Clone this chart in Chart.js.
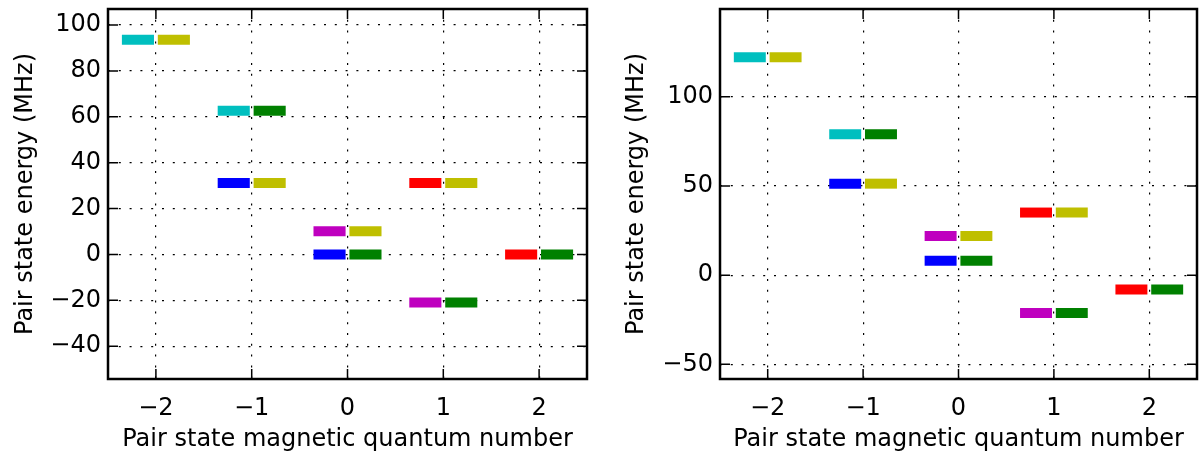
<!DOCTYPE html>
<html>
<head>
<meta charset="utf-8">
<script src="https://cdn.jsdelivr.net/npm/chart.js@4.4.0/dist/chart.umd.min.js"></script>
<style>
  html, body { margin: 0; padding: 0; background: #fff; }
  #wrap { position: relative; width: 1204px; height: 452px; }
  canvas { position: absolute; top: 0; }
</style>
</head>
<body>
<div id="wrap">
  <canvas id="leftChart" width="600" height="452" style="left:0"></canvas>
  <canvas id="rightChart" width="604" height="452" style="left:600px"></canvas>
</div>
<script>
// pair states: magnetic quantum number, energies (MHz) in both panels, colours of the two halves
const mValues = [-2, -1, -1, 0, 0, 1, 1, 2];
const leftEnergies = [93.6, 62.6, 31.1, 10.1, 0, 31.1, -20.9, 0];
const rightEnergies = [122.2, 79.0, 51.3, 22.0, 8.1, 35.1, -21.2, -8.1];
const firstHalfColors = ["c", "c", "b", "m", "b", "r", "m", "r"];
const secondHalfColors = ["y", "g", "y", "y", "g", "y", "g", "g"];

const xTicks = [-2, -1, 0, 1, 2];
const leftYTicks = [-40, -20, 0, 20, 40, 60, 80, 100];
const rightYTicks = [-50, 0, 50, 100];
const xRange = [-2.5, 2.5];
const leftYRange = [-54.3, 107];
const rightYRange = [-58.2, 149.2];

const palette = {
  b: "#0000ff", g: "#008000", r: "#ff0000",
  c: "#00bfbf", m: "#bf00bf", y: "#bfbf00"
};

const FONT = "'DejaVu Sans', 'Liberation Sans', sans-serif";

function fmt(v) {
  return v < 0 ? "\u2212" + Math.abs(v) : String(v);
}

function bar(x0, x1, e, color) {
  return {
    data: [{ x: x0, y: e }, { x: x1, y: e }],
    showLine: true,
    borderColor: color,
    borderWidth: 10,
    borderCapStyle: "butt",
    pointRadius: 0,
    pointHoverRadius: 0,
    fill: false
  };
}

// matplotlib-style frame with inward ticks on all four sides
const framePlugin = {
  id: "frame",
  afterDraw(chart) {
    const { ctx, chartArea: a, scales: { x, y } } = chart;
    ctx.save();
    ctx.strokeStyle = "#000";
    ctx.lineWidth = 1.5;
    ctx.beginPath();
    for (const t of x.ticks) {
      const px = x.getPixelForValue(t.value);
      ctx.moveTo(px, a.top); ctx.lineTo(px, a.top + 10);
      ctx.moveTo(px, a.bottom); ctx.lineTo(px, a.bottom - 10);
    }
    for (const t of y.ticks) {
      const py = y.getPixelForValue(t.value);
      ctx.moveTo(a.left, py); ctx.lineTo(a.left + 10, py);
      ctx.moveTo(a.right, py); ctx.lineTo(a.right - 10, py);
    }
    ctx.stroke();
    ctx.lineWidth = 2.5;
    ctx.strokeRect(a.left, a.top, a.right - a.left, a.bottom - a.top);
    ctx.restore();
  }
};

function makeChart(id, energies, yRange, yTicks, yAxisWidth, rightPad, yTitlePad) {
  const datasets = [];
  energies.forEach((e, i) => {
    const m = mValues[i];
    datasets.push(bar(m - 0.355, m - 0.02, e, palette[firstHalfColors[i]]));
    datasets.push(bar(m + 0.02, m + 0.355, e, palette[secondHalfColors[i]]));
  });

  const tickFont = { family: FONT, size: 24 };
  new Chart(document.getElementById(id), {
    type: "scatter",
    data: { datasets },
    options: {
      responsive: false,
      animation: false,
      devicePixelRatio: 1,
      events: [],
      layout: { padding: { top: 9, right: rightPad, left: 0, bottom: 0 } },
      plugins: { legend: { display: false }, tooltip: { enabled: false } },
      scales: {
        x: {
          type: "linear",
          min: xRange[0],
          max: xRange[1],
          z: 1,
          afterBuildTicks: (s) => { s.ticks = xTicks.map((v) => ({ value: v })); },
          afterFit: (s) => { s.height = 73; s.paddingLeft = 0; s.paddingRight = 0; },
          grid: { color: "#000", lineWidth: 1.2, drawTicks: false },
          border: { display: false, dash: [2, 8.8] },
          ticks: { color: "#000", font: tickFont, padding: 15, autoSkip: false, maxRotation: 0, callback: fmt },
          title: {
            display: true,
            text: "Pair state magnetic quantum number",
            color: "#000",
            font: tickFont,
            padding: { top: 0, bottom: -2 }
          }
        },
        y: {
          type: "linear",
          min: yRange[0],
          max: yRange[1],
          z: 1,
          afterBuildTicks: (s) => { s.ticks = yTicks.map((v) => ({ value: v })); },
          afterFit: (s) => { s.width = yAxisWidth; s.paddingTop = 0; s.paddingBottom = 0; },
          grid: { color: "#000", lineWidth: 1.2, drawTicks: false },
          border: { display: false, dash: [2, 8.8] },
          ticks: { color: "#000", font: tickFont, padding: 7, autoSkip: false, callback: fmt },
          title: {
            display: true,
            text: "Pair state energy (MHz)",
            color: "#000",
            font: tickFont,
            padding: { top: yTitlePad, bottom: 0 }
          }
        }
      }
    },
    plugins: [framePlugin]
  });
}

makeChart("leftChart", leftEnergies, leftYRange, leftYTicks, 108, 13, 11);
makeChart("rightChart", rightEnergies, rightYRange, rightYTicks, 120, 7, 22);
</script>
</body>
</html>
